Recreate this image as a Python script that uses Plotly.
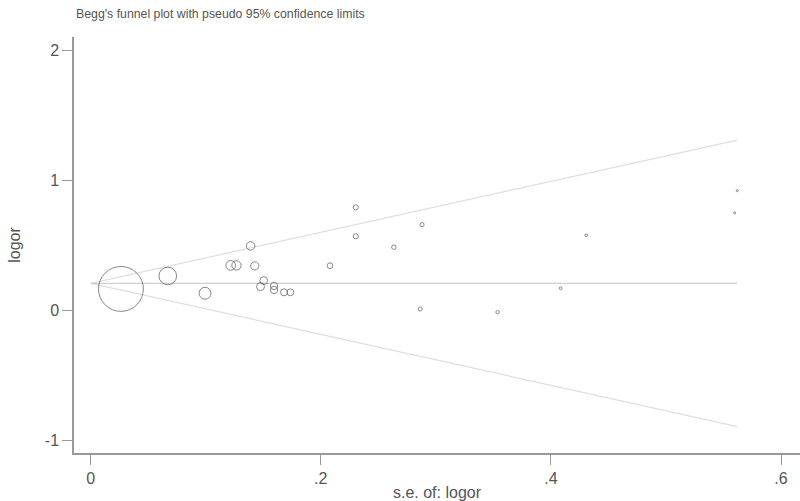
import plotly.graph_objects as go

# Study data
se = [0.0263, 0.067, 0.0994, 0.139, 0.1217, 0.1267, 0.1426, 0.1504, 0.1476,
      0.1594, 0.1594, 0.168, 0.1736, 0.208, 0.2304, 0.2304, 0.2635, 0.288,
      0.2864, 0.3536, 0.4084, 0.4307, 0.5597, 0.562]
logor = [0.167, 0.267, 0.134, 0.498, 0.348, 0.348, 0.344, 0.231, 0.185,
         0.190, 0.159, 0.141, 0.141, 0.346, 0.795, 0.572, 0.488, 0.662,
         0.013, -0.012, 0.172, 0.580, 0.752, 0.923]
pooled = 0.21

x_tickvals = [0, 0.2, 0.4, 0.6]
x_ticktext = ["0", ".2", ".4", ".6"]
y_tickvals = [-1, 0, 1, 2]
y_ticktext = ["-1", "0", "1", "2"]

se_max = max(se)
marker_sizes = [1.18 / s for s in se]

fig = go.Figure()
# pseudo 95% confidence limits
fig.add_trace(go.Scatter(x=[0, se_max], y=[pooled, pooled + 1.96 * se_max],
                         mode="lines", line=dict(color="#dedede", width=1.2),
                         hoverinfo="skip", showlegend=False))
fig.add_trace(go.Scatter(x=[0, se_max], y=[pooled, pooled - 1.96 * se_max],
                         mode="lines", line=dict(color="#dedede", width=1.2),
                         hoverinfo="skip", showlegend=False))
# pooled estimate line
fig.add_trace(go.Scatter(x=[0, se_max], y=[pooled, pooled],
                         mode="lines", line=dict(color="#cfcfcf", width=1.2),
                         hoverinfo="skip", showlegend=False))
# studies
fig.add_trace(go.Scatter(x=se, y=logor, mode="markers",
                         marker=dict(symbol="circle", size=marker_sizes,
                                     color="rgba(0,0,0,0)",
                                     line=dict(color="#555555", width=1)),
                         showlegend=False))

font_family = "Arial, Liberation Sans, sans-serif"
fig.update_layout(
    width=800, height=501,
    margin=dict(l=74, r=0, t=37, b=48),
    paper_bgcolor="white", plot_bgcolor="white",
    font=dict(family=font_family, color="#555555", size=16),
    title=dict(text="Begg's funnel plot with pseudo 95% confidence limits",
               x=76 / 800, xanchor="left", y=1 - 14 / 501, yanchor="middle",
               font=dict(size=12.3, color="#555555")),
)
fig.update_xaxes(range=[-0.0145, 0.6165], tickvals=x_tickvals, ticktext=x_ticktext,
                 showgrid=False, zeroline=False, showline=True,
                 linecolor="#999999", linewidth=1.5,
                 ticks="outside", ticklen=10, tickcolor="#999999", tickwidth=1.2,
                 tickfont=dict(size=16, color="#555555"),
                 title=dict(text="s.e. of: logor", font=dict(size=16, color="#555555"),
                            standoff=3))
fig.update_yaxes(range=[-1.095, 2.105], tickvals=y_tickvals, ticktext=y_ticktext,
                 showgrid=False, zeroline=False, showline=True,
                 linecolor="#999999", linewidth=1.5,
                 ticks="outside", ticklen=10, tickcolor="#999999", tickwidth=1.2,
                 tickfont=dict(size=16, color="#555555"),
                 title=dict(text="logor", font=dict(size=16, color="#555555"),
                            standoff=20))

fig.write_html("out.html",
               config={"displayModeBar": False},
               post_script="document.body.style.margin='0';document.body.style.overflow='hidden';")
